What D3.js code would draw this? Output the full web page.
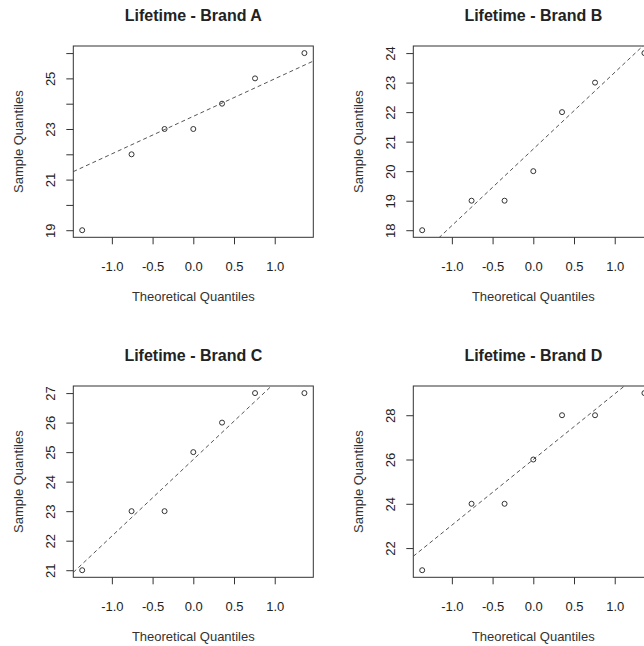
<!DOCTYPE html>
<html>
<head>
<meta charset="utf-8">
<script src="https://cdn.jsdelivr.net/npm/d3@7"></script>
<style>
  html, body { margin: 0; padding: 0; background: #fff; overflow: hidden; }
  svg { display: block; }
  text { font-family: "Liberation Sans", Arial, sans-serif; fill: #222; }
</style>
</head>
<body>
<script>
// ---- data ----
const brands = ["Brand A", "Brand B", "Brand C", "Brand D"];
const theoretical = [-1.3645, -0.7582, -0.3529, 0, 0.3529, 0.7582, 1.3645];
const lifetimeA = [19, 22, 23, 23, 24, 25, 26];
const lifetimeB = [18, 19, 19, 20, 22, 23, 24];
const lifetimeC = [21, 23, 23, 25, 26, 27, 27];
const lifetimeD = [21, 24, 24, 26, 28, 28, 29];
const xTicks = [-1.0, -0.5, 0.0, 0.5, 1.0];
const yTicksA = [19, 20, 21, 22, 23, 24, 25, 26];
const yLabelsA = [19, 21, 23, 25];
const yTicksB = [18, 19, 20, 21, 22, 23, 24];
const yLabelsB = [18, 19, 20, 21, 22, 23, 24];
const yTicksC = [21, 22, 23, 24, 25, 26, 27];
const yLabelsC = [21, 22, 23, 24, 25, 26, 27];
const yTicksD = [22, 24, 26, 28];
const yLabelsD = [22, 24, 26, 28];

const panels = [
  { name: brands[0], values: lifetimeA, yTicks: yTicksA, yLabels: yLabelsA },
  { name: brands[1], values: lifetimeB, yTicks: yTicksB, yLabels: yLabelsB },
  { name: brands[2], values: lifetimeC, yTicks: yTicksC, yLabels: yLabelsC },
  { name: brands[3], values: lifetimeD, yTicks: yTicksD, yLabels: yLabelsD }
];

// ---- layout ----
const W = 680, H = 680;
const cell = 340;
const mL = 73.3, mR = 26.7, mT = 46, mB = 102.7;
const pw = cell - mL - mR, ph = cell - mT - mB;
const txt = "#333";

const svg = d3.select("body").append("svg").attr("width", W).attr("height", H);

function ext(lo, hi) { const d = (hi - lo) * 0.04; return [lo - d, hi + d]; }

panels.forEach((p, i) => {
  const ox = (i % 2) * cell, oy = Math.floor(i / 2) * cell;
  const g = svg.append("g").attr("transform", `translate(${ox + mL},${oy + mT})`);

  const x = d3.scaleLinear().domain(ext(d3.min(theoretical), d3.max(theoretical))).range([0, pw]);
  const y = d3.scaleLinear().domain(ext(d3.min(p.values), d3.max(p.values))).range([ph, 0]);

  // clip
  const cid = "clip" + i;
  g.append("clipPath").attr("id", cid).append("rect").attr("width", pw).attr("height", ph);

  // qq line through quartiles
  const sorted = p.values.slice().sort(d3.ascending);
  const y1 = d3.quantile(sorted, 0.25), y2 = d3.quantile(sorted, 0.75);
  const x1 = -0.6744898, x2 = 0.6744898;
  const slope = (y2 - y1) / (x2 - x1), icpt = y1 - slope * x1;
  const [dx0, dx1] = x.domain();
  g.append("line")
    .attr("clip-path", `url(#${cid})`)
    .attr("x1", x(dx0)).attr("y1", y(icpt + slope * dx0))
    .attr("x2", x(dx1)).attr("y2", y(icpt + slope * dx1))
    .attr("stroke", "#555").attr("stroke-width", 1)
    .attr("stroke-dasharray", "4,3");

  // points
  g.selectAll("circle.pt").data(sorted).enter().append("circle")
    .attr("class", "pt")
    .attr("cx", (d, j) => x(theoretical[j]))
    .attr("cy", d => y(d))
    .attr("r", 2.5)
    .attr("fill", "none").attr("stroke", "#333").attr("stroke-width", 1);

  // box
  g.append("rect").attr("x", 0).attr("y", 0).attr("width", pw).attr("height", ph)
    .attr("fill", "none").attr("stroke", "#333").attr("stroke-width", 1);

  // x axis
  const xa = g.append("g").attr("transform", `translate(0,${ph})`)
    .call(d3.axisBottom(x).tickValues(xTicks).tickFormat(d => d.toFixed(1)).tickSizeInner(7).tickSizeOuter(0));
  xa.select(".domain").remove();
  xa.selectAll(".tick line").attr("stroke", "#333");
  xa.selectAll(".tick text").attr("y", 33.5).attr("dy", 0)
    .style("font-size", "13px").style("font-family", "Liberation Sans, Arial, sans-serif").attr("fill", txt);

  // y axis
  const ya = g.append("g")
    .call(d3.axisLeft(y).tickValues(p.yTicks)
      .tickFormat(d => p.yLabels.includes(d) ? String(d) : "")
      .tickSizeInner(7).tickSizeOuter(0));
  ya.select(".domain").remove();
  ya.selectAll(".tick line").attr("stroke", "#333");
  ya.selectAll(".tick text").attr("x", 0).attr("y", 0).attr("dy", 0)
    .attr("transform", "translate(-18,0) rotate(-90)")
    .attr("text-anchor", "middle")
    .style("font-size", "13px").style("font-family", "Liberation Sans, Arial, sans-serif").attr("fill", txt);

  // titles
  g.append("text").attr("x", pw / 2).attr("y", 21 - mT)
    .attr("text-anchor", "middle").style("font-size", "16px").style("font-weight", "bold")
    .style("fill", "#222")
    .text("Lifetime - " + p.name);
  g.append("text").attr("x", pw / 2).attr("y", ph + 64)
    .attr("text-anchor", "middle").style("font-size", "13px").style("fill", txt)
    .text("Theoretical Quantiles");
  g.append("text").attr("transform", `translate(-50,${ph / 2}) rotate(-90)`)
    .attr("text-anchor", "middle").style("font-size", "13px").style("fill", txt)
    .text("Sample Quantiles");
});
</script>
</body>
</html>
